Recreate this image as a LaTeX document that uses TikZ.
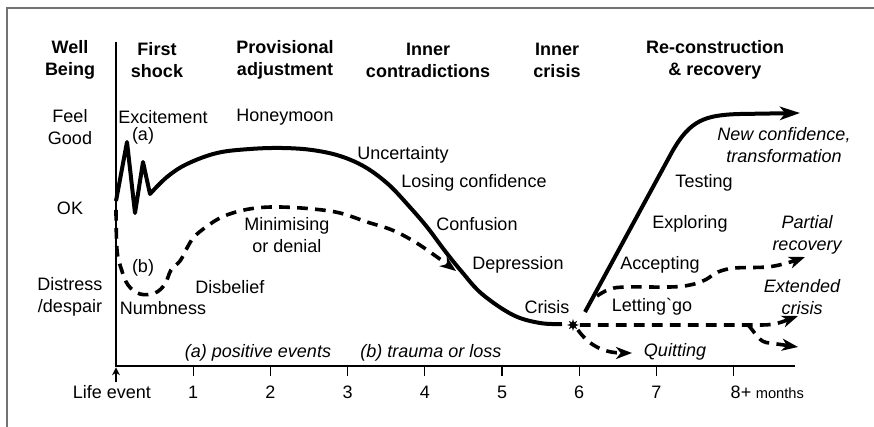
\documentclass[tikz,border=0pt]{standalone}
\usepackage{fontspec}
\setmainfont{Liberation Sans}
\usepackage{tikz}
\usetikzlibrary{arrows.meta,positioning,shapes.geometric}

\begin{document}
\begin{tikzpicture}[x=0.75pt,y=-0.75pt,
    every node/.style={font=\fontsize{13.5}{16.5}\selectfont,inner sep=0pt,align=center},
    head/.style={font=\fontsize{13.5}{16.5}\selectfont\bfseries},
    note/.style={font=\fontsize{13.5}{16.5}\selectfont\itshape},
    axis/.style={line width=0.8pt},
    curve/.style={line width=3pt,line join=round},
    dashcurve/.style={line width=2.7pt,dash pattern=on 8pt off 5.5pt},
    bigtip/.style={-{Stealth[length=15pt,width=10pt,inset=4pt]}},
    tip/.style={-{Stealth[length=12pt,width=9pt,inset=3.5pt]}}]
  \useasboundingbox (0,0) rectangle (874,427);
  \draw[black!55,line width=1pt] (874,8) -- (7,8) -- (7,427);

  \node[head] (wellbeing) at (70,60) {Well\\Being};
  \node[head] (shock) at (157,60) {First\\shock};
  \node[head] (provis) at (285,60) {Provisional\\adjustment};
  \node[head] (contra) at (428,60) {Inner\\contradictions};
  \node[head] (innercrisis) at (557,60) {Inner\\crisis};
  \node[head] (recon) at (715,60) {Re-construction\\\& recovery};

  \node (feelgood) at (70,127) {Feel\\Good};
  \node (ok) at (70,208) {OK};
  \node (distress) at (70,297) {Distress\\/despair};

  \coordinate (origin) at (116,366);
  \draw[axis] (116,42) -- (origin) -- (795,366);
  \foreach \k in {1,...,8}
    \draw[axis] (116+77.2*\k,366) -- ++(0,10);
  \foreach \k in {1,...,7}
    \node (t\k) at (116+77.2*\k,392) {\k};
  \node (t8) at (741,392) {8+};
  \node[font=\fontsize{11}{13}\selectfont,base right=3pt of t8] (months) {months};
  \node (lifeev) at (112,392) {Life event};
  \draw[line width=1.2pt,-{Stealth[length=6pt,width=6pt]}] ([yshift=2pt]lifeev.north -| origin) -- ([yshift=-1pt]origin);

  \draw[curve] (116,201) -- (127,142) -- (135,213) -- (143,162) -- (150,194)
    -- plot[smooth,tension=0.6] coordinates {(150,194) (167,177) (187,164) (217,153)
      (250,149) (282,148) (312,150) (340,156) (365,167) (388,184) (408,205)
      (427,227) (445,251) (462,272) (482,294) (513,315) (540,323) (562,324)};
  \draw[dashcurve,tip] plot[smooth,tension=0.6] coordinates {(116,210) (117,250)
      (121,268) (128,285) (140,294) (155,293) (165,284) (171,270) (180,261)
      (187,248) (194,237) (206,227) (220,218) (236,212) (256,208) (280,207)
      (313,209) (340,213) (367,222) (392,230) (415,242) (437,257) (456,271)};

  \node[star,star points=8,star point ratio=2.2,fill,minimum size=9pt] (burst) at (573,325) {};
  \draw[curve,bigtip] (585,312) -- (672,152) .. controls (690,120) and (705,115) .. (740,114) -- (800,113);
  \draw[dashcurve,tip] plot[smooth,tension=0.6] coordinates {(597,296) (610,289)
      (627,287) (670,287) (690,285) (705,280) (718,272) (735,268) (767,267)
      (787,263) (805,257)};
  \coordinate (fork) at (748,325);
  \draw[dashcurve,tip] (burst.east) -- (fork) -- (762,325) to[out=0,in=200] (798,316);
  \draw[dashcurve,tip] (fork) to[out=-45,in=180] (770,343) -- (798,347);
  \draw[dashcurve,tip] (burst.south east) to[out=-55,in=180] (632,353);

  \node (excite) at (163,117) {Excitement};
  \node (lbla) at (143,136) {(a)};
  \node (honey) at (285,117) {Honeymoon};
  \node (uncert) at (403,155) {Uncertainty};
  \node (losing) at (474,183) {Losing confidence};
  \node (confus) at (477,224) {Confusion};
  \node (depress) at (518,265) {Depression};
  \node (crisis) at (547,307) {Crisis};
  \node (minim) at (287,235) {Minimising\\or denial};
  \node (lblb) at (143,268) {(b)};
  \node (disbel) at (230,287) {Disbelief};
  \node (numb) at (163,308) {Numbness};
  \node[note] (posev) at (258,353) {(a) positive events};
  \node[note] (trauma) at (431,353) {(b) trauma or loss};
  \node[note] (newconf) at (784,145) {New confidence,\\transformation};
  \node (testing) at (704,183) {Testing};
  \node (explor) at (690,224) {Exploring};
  \node[note] (partial) at (807,235) {Partial\\recovery};
  \node (accept) at (660,265) {Accepting};
  \node[note] (extend) at (802,297) {Extended\\crisis};
  \node (letting) at (652,307) {Letting\textasciigrave go};
  \node[note] (quit) at (675,352) {Quitting};
\end{tikzpicture}
\end{document}
